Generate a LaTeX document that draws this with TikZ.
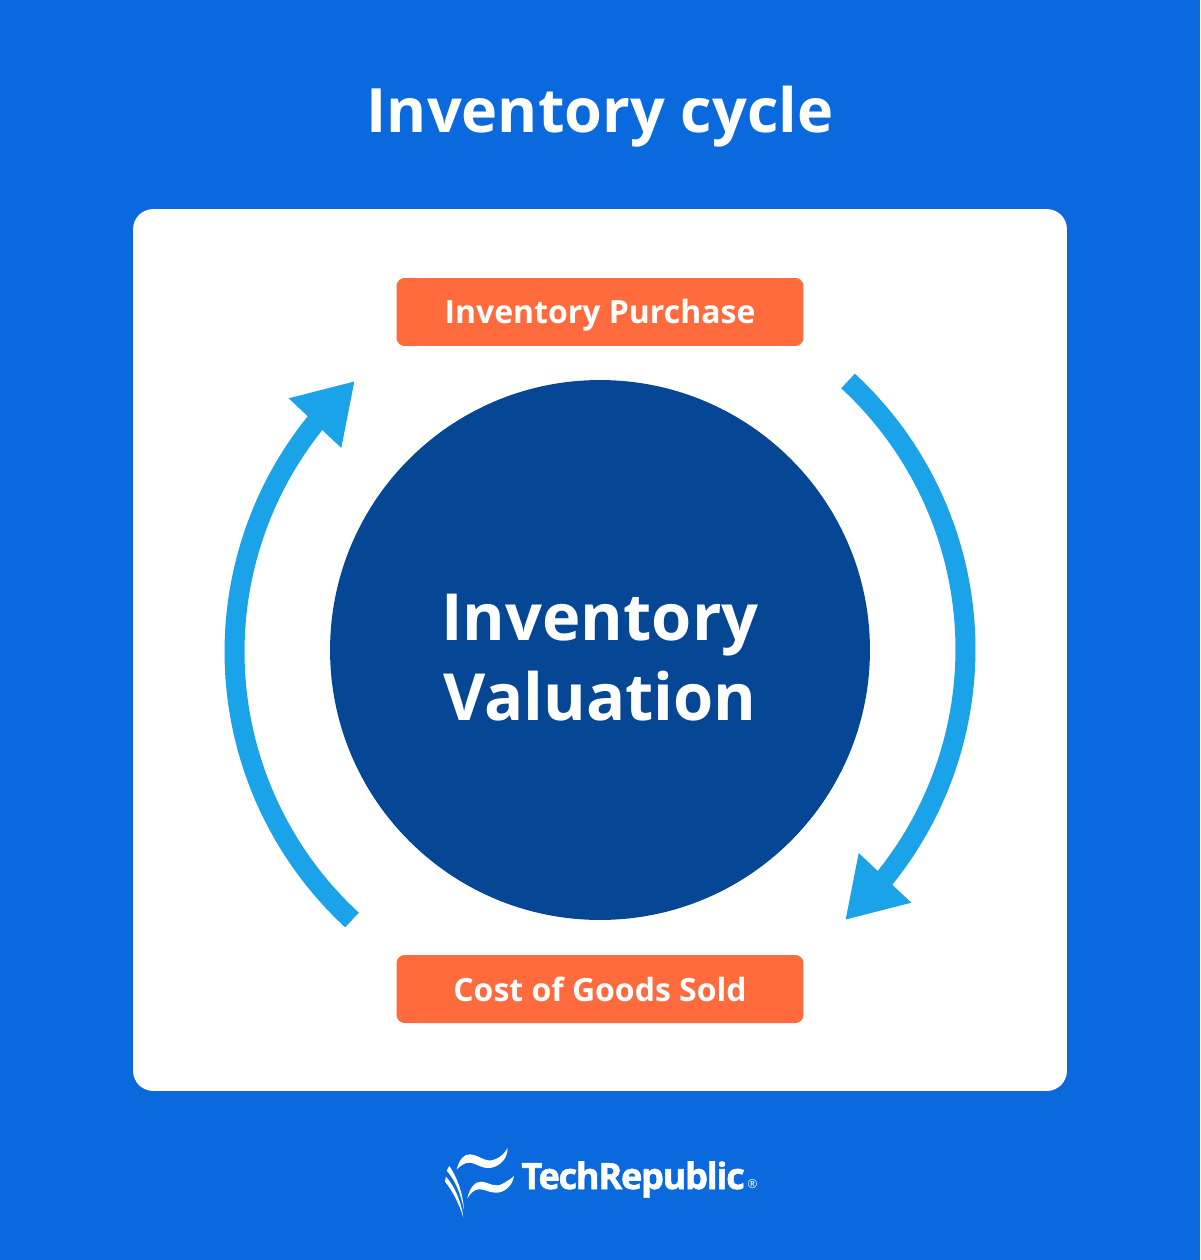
\documentclass[tikz,border=0pt]{standalone}
\usepackage{fontspec}
\setmainfont[Ligatures=NoCommon]{Open Sans}
\usetikzlibrary{arrows.meta, bending}
\definecolor{bgblue}{HTML}{0A6ADD}
\definecolor{darkblue}{HTML}{054795}
\definecolor{boxorange}{HTML}{FF6B3D}
\definecolor{arrowblue}{HTML}{1AA3E8}
\tikzset{
  panel/.style={fill=white, rounded corners=0.4cm, minimum width=18.68cm, minimum height=17.64cm, inner sep=0},
  hub/.style={circle, fill=darkblue, minimum size=10.8cm, inner sep=0},
  hubtext/.style={text=white, anchor=base, font=\fontsize{37}{45.5}\selectfont\bfseries},
  stagebox/.style={fill=boxorange, rounded corners=0.16cm, minimum width=8.14cm, minimum height=1.36cm, inner sep=0, text=white, text height=0.6cm, text depth=0.12cm, font=\fontsize{18.2}{23}\selectfont\bfseries},
  cyclearrow/.style={arrowblue, line width=0.4cm, -{Triangle[length=1.16cm, width=1.36cm, flex=1]}},
  flagpart/.style={fill=white, draw=none}
}
\begin{document}
\begin{tikzpicture}[x=0.02cm, y=-0.02cm]
\fill[bgblue] (0,0) rectangle (1200,1260);
\useasboundingbox (0,0) rectangle (1200,1260);
\node[text=white, font=\fontsize{34.8}{40}\selectfont\bfseries, anchor=base] (title) at (600,133) {Inventory cycle};
\node[panel] (card) at (600,650) {};
\node[hub] (valuation) at (600,650) {};
\node[hubtext] (hubtop) at (600,640) {Inventory};
\node[hubtext] (hubbottom) at (600,720) {Valuation};
\node[stagebox] (purchase) at (600,312) {Inventory Purchase};
\node[stagebox] (cogs) at (600,989) {Cost of Goods Sold};
% arrows round the circle
\coordinate (rightstart) at (848,381);
\coordinate (leftstart) at (352,920);
\draw[cyclearrow] (rightstart) arc[start angle=-47.3, end angle=47.9, radius=365];
\draw[cyclearrow] (leftstart) arc[start angle=132.7, end angle=227.9, radius=365];
% logo
\begin{scope}[shift={(420,1130)}, x=0.00667cm, y=-0.00667cm]
\fill[flagpart] (110,118) .. controls (118,90) and (130,72) .. (150,73) .. controls (180,75) and (195,100) .. (225,88) .. controls (245,80) and (255,68) .. (262,54) .. controls (265,75) and (250,100) .. (225,110) .. controls (190,124) and (170,98) .. (148,98) .. controls (132,98) and (122,108) .. (110,118) -- cycle;
\fill[flagpart] (142,205) .. controls (148,175) and (165,153) .. (185,155) .. controls (210,158) and (225,175) .. (250,160) .. controls (262,153) and (272,147) .. (282,138) .. controls (278,165) and (255,190) .. (225,188) .. controls (205,187) and (190,176) .. (175,178) .. controls (160,180) and (150,192) .. (142,205) -- cycle;
\fill[flagpart] (88,108) .. controls (110,140) and (128,185) .. (132,240) .. controls (122,190) and (105,150) .. (80,122) -- cycle;
\fill[flagpart] (78,140) .. controls (100,165) and (122,205) .. (130,262) .. controls (115,215) and (95,180) .. (75,155) -- cycle;
\end{scope}
\node[text=white, anchor=base west, inner sep=0, font=\fontsize{20.6}{24}\selectfont\bfseries] (brand) at (521,1189) {\addfontfeatures{FakeBold=1.5, LetterSpace=-3.6}TechRepublic};
\node[text=white, anchor=base west, inner sep=0, font=\fontsize{7}{8}\selectfont] (regmark) at (747,1188) {®};
\end{tikzpicture}
\end{document}
